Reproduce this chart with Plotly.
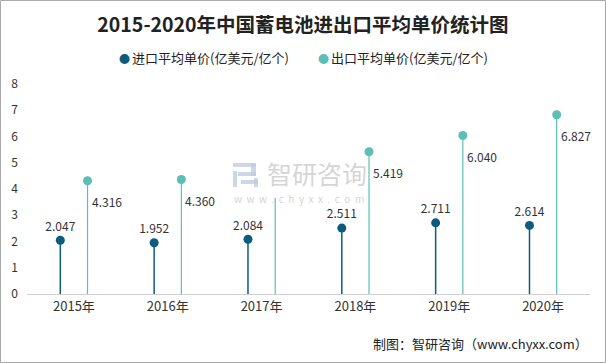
import plotly.graph_objects as go

years = ["2015年", "2016年", "2017年", "2018年", "2019年", "2020年"]
import_price = [2.047, 1.952, 2.084, 2.511, 2.711, 2.614]
export_price = [4.316, 4.360, 3.66, 5.419, 6.040, 6.827]
export_labels = ["4.316", "4.360", "", "5.419", "6.040", "6.827"]
import_name = "进口平均单价(亿美元/亿个)"
export_name = "出口平均单价(亿美元/亿个)"

C_IMP = "#0c5c7e"
C_EXP = "#5cbfb6"
FONT = "Noto Sans CJK SC, Microsoft YaHei, sans-serif"
off = 0.145

L, R, T, B = 27, 16, 84, 69
PW, PH = 606 - L - R, 363 - T - B


def px(x):
    return (x - L) / PW


def py(y):
    return (363 - B - y) / PH


xi = [i - off for i in range(len(years))]
xe = [i + off for i in range(len(years))]


def stems(xs, ys):
    sx, sy = [], []
    for x, y in zip(xs, ys):
        sx += [x, x, None]
        sy += [0, y, None]
    return sx, sy


fig = go.Figure()
sx, sy = stems(xi, import_price)
fig.add_trace(go.Scatter(x=sx, y=sy, mode="lines", line=dict(color=C_IMP, width=1.5),
                         showlegend=False, hoverinfo="skip"))
sx, sy = stems(xe, export_price)
fig.add_trace(go.Scatter(x=sx, y=sy, mode="lines", line=dict(color=C_EXP, width=1.2),
                         showlegend=False, hoverinfo="skip"))
fig.add_trace(go.Scatter(x=xi, y=import_price, mode="markers+text", name=import_name,
                         marker=dict(color=C_IMP, size=9),
                         text=[f"{v:.3f}" for v in import_price], textposition="top center",
                         textfont=dict(size=12, color="#333333", family=FONT),
                         showlegend=False))
fig.add_trace(go.Scatter(x=xe, y=[v if l else None for v, l in zip(export_price, export_labels)],
                         mode="markers", name=export_name,
                         marker=dict(color=C_EXP, size=9), showlegend=False))

for x, y, l in zip(xe, export_price, export_labels):
    if l:
        fig.add_annotation(x=x, y=y, text=l, showarrow=False, xanchor="left", yanchor="middle",
                           xshift=2, yshift=-21, font=dict(size=12, color="#333333", family=FONT))

# legend (manual, for exact placement)
for dot_x, color, name in [(124, C_IMP, import_name), (323, C_EXP, export_name)]:
    fig.add_annotation(xref="paper", yref="paper", x=px(dot_x), y=py(58), text="●",
                       showarrow=False, xanchor="center", yanchor="middle",
                       font=dict(size=11, color=color, family=FONT))
    fig.add_annotation(xref="paper", yref="paper", x=px(dot_x + 6), y=py(57), text=name,
                       showarrow=False, xanchor="left", yanchor="middle",
                       font=dict(size=13, color="#222222", family=FONT))

# watermark
fig.add_annotation(xref="paper", yref="paper", x=px(265), y=py(173),
                   text="智研咨询", showarrow=False, xanchor="left", yanchor="middle",
                   font=dict(size=25, color="rgba(185,185,185,0.6)", family=FONT))
fig.add_annotation(xref="paper", yref="paper", x=px(232), y=py(198),
                   text="w  w  w  .  c  h  y  x  x  .  c  o  m", showarrow=False,
                   xanchor="left", yanchor="middle",
                   font=dict(size=10, color="rgba(185,185,185,0.65)", family=FONT))
logo = "rgba(190,202,222,0.75)"
for x0, y0, x1, y1 in [(233, 163, 256, 167), (251, 163, 256, 176), (238, 172, 256, 176),
                       (233, 171, 237, 187), (241, 180, 258, 184), (254, 178, 258, 187)]:
    fig.add_shape(type="rect", xref="paper", yref="paper", x0=px(x0), x1=px(x1),
                  y0=py(y1), y1=py(y0), line=dict(width=0), fillcolor=logo, layer="below")

# footer
fig.add_annotation(xref="paper", yref="paper", x=px(590), y=py(343),
                   text="制图：智研咨询（www.chyxx.com）", showarrow=False,
                   xanchor="right", yanchor="middle",
                   font=dict(size=13, color="#222222", family=FONT))

# border
fig.add_shape(type="rect", xref="paper", yref="paper",
              x0=px(0.5), x1=px(605.5), y0=py(362.5), y1=py(0.5),
              line=dict(color="#aaaaaa", width=1))

fig.update_layout(
    width=606, height=363,
    margin=dict(l=L, r=R, t=T, b=B, autoexpand=False),
    paper_bgcolor="white", plot_bgcolor="white",
    title=dict(text="<b>2015-2020年中国蓄电池进出口平均单价统计图</b>", x=0.5, xanchor="center",
               y=1 - 25 / 363, yanchor="middle",
               font=dict(size=19.5, color="#222222", family=FONT)),
    font=dict(family=FONT),
    showlegend=False,
)
fig.update_xaxes(range=[-0.5, 5.5], tickvals=list(range(len(years))), ticktext=years,
                 showgrid=False, zeroline=False, showline=True, linecolor="#d0d0d0", linewidth=1,
                 ticks="", tickfont=dict(size=13, color="#333333", family=FONT), fixedrange=True)
fig.update_yaxes(range=[0, 8], dtick=1, showgrid=False, zeroline=False, showline=False,
                 ticks="", ticklabelstandoff=8, tickfont=dict(size=12, color="#333333", family=FONT))

fig.write_html("out.html", config={"displayModeBar": False},
               post_script="document.body.style.margin='0';document.body.style.overflow='hidden';")
